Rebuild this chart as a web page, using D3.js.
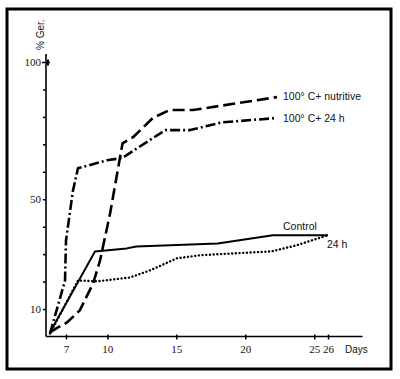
<!DOCTYPE html>
<html><head><meta charset="utf-8">
<script src="https://cdn.jsdelivr.net/npm/d3@7"></script>
<style>body{margin:0;background:#fff}svg{display:block}text{font-family:"Liberation Sans",Arial,sans-serif;fill:#111}</style>
</head><body><svg id="c" width="400" height="379"></svg>
<script>
const xTicks = [7, 10, 15, 20, 25, 26];
const yTicks = [10, 20, 30, 40, 50, 60, 70, 80, 90, 100];
const yLabels = [10, 50, 100];
const nutritiveDays = [5.84, 6.42, 7.07, 8.0, 8.96, 9.47, 10.2, 11.1, 11.86, 13.3, 14.5, 16.2, 22.3];
const nutritiveVals = [1.5, 3.3, 5.1, 9.5, 19.3, 27.7, 44.9, 70.4, 72.6, 79.6, 82.5, 82.5, 87.2];
const h24cDays = [5.84, 6.93, 7.0, 7.5, 7.87, 9.97, 11.06, 14.2, 16.0, 18.3, 22.3];
const h24cVals = [1.1, 20.4, 35, 53, 61.3, 64.2, 65, 75.2, 75.2, 78, 79.6];
const controlDays = [5.84, 9.1, 11.4, 12.1, 18.0, 22.0, 26.0];
const controlVals = [1.5, 31, 32.1, 32.8, 33.9, 36.9, 36.9];
const h24Days = [5.84, 7.87, 9.25, 11.64, 13.1, 15.05, 16.7, 21.9, 23.7, 26.0];
const h24Vals = [1.1, 20.4, 20.1, 21.5, 24.1, 28.5, 29.6, 31, 33.2, 36.9];

const svg = d3.select("#c");
svg.append("rect").attr("x",7).attr("y",9).attr("width",384).attr("height",360)
  .attr("fill","none").attr("stroke","#000").attr("stroke-width",3);

const x = d3.scaleLinear().domain([5.55, 28.5]).range([46, 362.5]);
const y = d3.scaleLinear().domain([0, 100]).range([336.5, 62]);

svg.append("line").attr("x1",46).attr("x2",46).attr("y1",54).attr("y2",y(0)).attr("stroke","#000").attr("stroke-width",1.6);
svg.append("line").attr("x1",46).attr("x2",x(28.5)).attr("y1",y(0)).attr("y2",y(0)).attr("stroke","#000").attr("stroke-width",1.6);

const serif = '"Liberation Serif","Times New Roman",serif';
const xAxis = d3.axisBottom(x).tickValues(xTicks).tickSize(3).tickPadding(6).tickFormat(d3.format("d"));
const gx = svg.append("g").attr("transform",`translate(0,${y(0)})`).call(xAxis);
gx.select(".domain").remove();
gx.selectAll("text").style("font-size","11px").style("font-family",serif).attr("fill","#111");
gx.selectAll("line").attr("stroke-width",1.5).attr("y1",-2);

const yAxis = d3.axisLeft(y).tickValues(yTicks).tickSize(3).tickPadding(2)
  .tickFormat(d => yLabels.includes(d) ? d : "");
const gy = svg.append("g").attr("transform","translate(46,0)").call(yAxis);
gy.select(".domain").remove();
gy.selectAll("text").style("font-size","11px").style("font-family",serif).attr("fill","#111");
gy.selectAll("line").attr("stroke-width",1.5);
gy.selectAll(".tick").filter(d=>d===100).append("line")
  .attr("x1",2).attr("x2",2).attr("y1",-3).attr("y2",3).attr("stroke","#000").attr("stroke-width",2);
gy.selectAll(".tick").filter(d=>d===100).select("line").attr("x2",-4).attr("x1",4);

svg.append("text").attr("transform","translate(44,50) rotate(-90)").style("font-size","10px").text("% Ger.");
svg.append("text").attr("x",345).attr("y",353).style("font-size","10px").text("Days");

const line = d3.line().x(d=>x(d[0])).y(d=>y(d[1]));
function draw(days, vals, opts){
  svg.append("path").datum(days.map((d,i)=>[d,vals[i]])).attr("d",line)
    .attr("fill","none").attr("stroke","#000").attr("stroke-width",opts.w)
    .attr("stroke-dasharray",opts.dash||null).attr("stroke-linecap",opts.cap||"butt")
    .attr("stroke-linejoin","round");
}
draw(controlDays, controlVals, {w:2});
draw(h24Days, h24Vals, {w:2.4, dash:"0.1 3.6", cap:"round"});
draw(nutritiveDays, nutritiveVals, {w:2.6, dash:"12 5"});
draw(h24cDays, h24cVals, {w:2.6, dash:"10 3 2 3"});

svg.append("text").attr("x",283).attr("y",100).style("font-size","10.5px").text("100° C+ nutritive");
svg.append("text").attr("x",283).attr("y",122).style("font-size","10.5px").text("100° C+ 24 h");
svg.append("text").attr("x",283).attr("y",230).style("font-size","10.5px").text("Control");
svg.append("text").attr("x",327).attr("y",248).style("font-size","10.5px").text("24 h");
</script></body></html>
